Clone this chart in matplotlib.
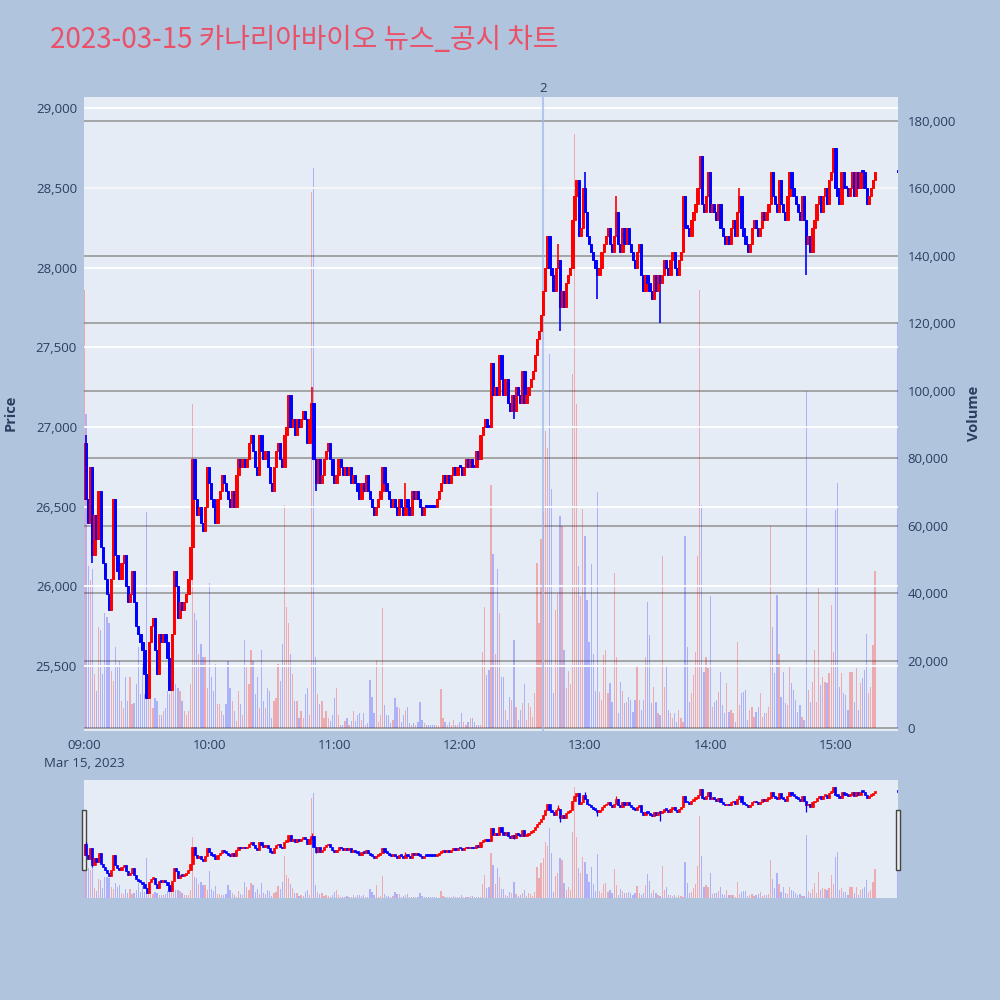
import matplotlib
matplotlib.use('Agg')
import matplotlib.pyplot as plt
from matplotlib.patches import Rectangle

title = '2023-03-15 카나리아바이오 뉴스_공시 차트'
tick_minutes = [0, 60, 120, 180, 240, 300, 360]
tick_labels = ['09:00\nMar 15, 2023', '10:00', '11:00', '12:00', '13:00', '14:00', '15:00']

# one candle per minute, 09:00 .. 15:19, then the 15:30 closing auction
first_open = 26550
closes = [
    26900, 26550, 26400, 26750, 26200, 26450, 26300, 26600, 26250, 26150,
    26050, 25950, 25850, 26050, 26550, 26200, 26100, 26050, 26150, 26200,
    26000, 25900, 25950, 26100, 25900, 25750, 25700, 25650, 25600, 25450,
    25300, 25650, 25750, 25800, 25600, 25450, 25700, 25650, 25700, 25650,
    25550, 25350, 25700, 26100, 26000, 25800, 25900, 25850, 25900, 25950,
    26050, 26250, 26800,
    26550, 26450, 26500, 26400, 26350, 26500, 26750, 26650, 26550, 26500,
    26400, 26550, 26600, 26700, 26650, 26600, 26550, 26500, 26600, 26500,
    26700, 26800, 26750, 26800, 26750, 26800, 26900, 26950, 26850, 26750,
    26700, 26950, 26850, 26800, 26850, 26750, 26650, 26600, 26750, 26850,
    26900, 26800, 26750, 26950, 27000, 27200, 27000, 27050, 26950,
    27050, 27000, 27050, 27100, 27050, 26900, 27050, 27150, 26800, 26650,
    26800, 26650, 26700, 26800, 26850, 26900, 26800, 26700, 26650, 26700,
    26800, 26750, 26700, 26750, 26700, 26750, 26650, 26700, 26650, 26600,
    26550, 26650, 26600, 26700, 26600, 26550, 26500, 26450, 26500, 26550,
    26600, 26750, 26650, 26600, 26550, 26500, 26550, 26500, 26450, 26550,
    26500, 26450, 26550, 26500, 26450, 26600, 26550, 26600, 26550, 26500,
    26450, 26500, 26500, 26500, 26500, 26500, 26500, 26550, 26600, 26650,
    26700, 26650, 26700, 26650, 26700, 26750, 26700, 26750, 26750, 26700,
    26750, 26800, 26750, 26800, 26750, 26750, 26850, 26800, 26950, 27000,
    27050, 27000, 27000, 27400,
    27200, 27250, 27200, 27450, 27300, 27200, 27300, 27150, 27100, 27200,
    27100, 27250, 27200, 27150, 27350, 27150, 27200, 27250, 27300, 27350,
    27450, 27550, 27600, 27700, 27850, 28000, 28200, 28000, 27950, 27850,
    28000, 28050, 27750, 27850, 27750, 27900, 27950, 28000, 28300, 28450,
    28550, 28200, 28250, 28500, 28350, 28200, 28150, 28100, 28050, 28000,
    27950, 28000, 28100, 28150, 28200, 28250, 28150, 28100, 28200, 28350,
    28150, 28100, 28250, 28150, 28250, 28150, 28100, 28050, 28000, 28100,
    28150, 27950, 27850, 27950, 27900, 27850, 27800, 27950, 27850, 27950,
    27900, 27950, 28050, 28000, 27950, 28050, 28100, 28000, 27950, 28050,
    28100, 28450, 28250,
    28250, 28200, 28300, 28350, 28400, 28500, 28700, 28400, 28350, 28450,
    28600, 28350, 28400, 28350, 28300, 28400, 28250, 28200, 28150, 28200,
    28150, 28250, 28300, 28200, 28350, 28450, 28250, 28200, 28150, 28100,
    28150, 28250, 28300, 28250, 28200, 28250, 28350, 28300, 28350, 28400,
    28600, 28450, 28400, 28350, 28550, 28400, 28350, 28300, 28450, 28600,
    28500, 28450, 28400, 28350, 28300, 28450, 28300, 28150, 28200, 28100,
    28250, 28300, 28400, 28450, 28350, 28450, 28500, 28400, 28550, 28600,
    28750, 28500, 28450, 28400, 28600, 28500, 28500, 28450, 28500, 28600,
    28450, 28600, 28500, 28600, 28600, 28500, 28400, 28450, 28500, 28550,
    28600,
]
auction_minute = 390
auction_close = 28600

# volume per minute, thousands of shares
volumes = [
    130, 93, 48, 44, 47, 16, 11, 30, 29, 16,
    34, 33, 31, 17, 14, 24, 18, 20, 8, 6,
    15, 8, 15, 7, 7.5, 13, 24, 10, 19, 10,
    64, 10, 9, 6, 9, 8, 4, 4, 5, 6,
    11, 10, 28, 18, 13, 12, 11, 8, 5, 4,
    5, 13, 96,
    34, 32, 22, 25, 21, 21, 12, 43, 15, 11,
    19, 7, 7, 5, 4, 7, 20, 12, 8, 5,
    2, 11, 7, 4, 26, 18, 13, 23, 20, 10,
    15, 6, 23, 8, 6, 12, 11, 3, 8, 9,
    19, 14, 25, 66, 36, 31, 22, 16, 8,
    8, 3, 5, 3, 10, 12, 4, 159, 166, 21,
    10, 7, 8, 3, 5, 3, 2, 4, 9, 12,
    4, 1, 1, 2, 3, 1, 2, 5, 2, 4,
    4.4, 2.4, 4.4, 0.9, 1.4, 14.2, 9.3, 4.4, 20.1, 1.9,
    3.9, 35.5, 6.8, 3.9, 3.9, 1.4, 2.4, 8.8, 6.3, 5.8,
    1.9, 3.9, 5.3, 6.3, 1.4, 0.9, 1.4, 0.9, 1.9, 7.8,
    2.4, 1.4, 0.9, 0.9, 0.9, 0.9, 0.9, 0.9, 0.5, 11.7,
    2.9, 1.9, 0.9, 1.9, 0.9, 2.4, 0.9, 0.9, 1.9, 4.4,
    1.9, 0.9, 1.9, 2.9, 2.9,
    1.9, 0.9, 0.9, 0.9, 22.6, 36, 15.7, 17.2, 72, 51.7,
    22, 47, 34, 15, 15, 5.3, 2.4, 9.3, 8.3, 26,
    6.3, 2.4, 5.3, 7.3, 13, 2.4, 7.3, 6.3, 3.4, 10.3,
    49, 31, 56, 64, 88, 83, 111, 71, 10.3, 35,
    40, 63, 60, 23, 12, 17, 13, 105, 176, 96,
    48,
    39, 65, 57, 38, 25.6, 48.5, 22, 11, 70, 10.8,
    8.3, 21.7, 23, 10.3, 13.2, 7.8, 46, 21, 4.4, 13.7,
    11, 7.3, 7.8, 9.3, 8.3, 4.8, 8.3, 18.7, 8.3, 5.3,
    8.3, 21, 37.5, 27.6, 7.3, 12.2, 7.8, 4.4, 3.9, 51,
    12.2, 18.2, 5.3, 4.4, 2.9, 4.4, 1.9, 5.3, 2.9, 1.9,
    57, 24, 7.8, 10.3, 15.7, 22.6, 51, 130,
    66, 16.7, 21, 17.7, 39, 6.3, 7.8, 8.3, 10.8, 16.7,
    6.8, 4.4, 13.2, 4.8, 5.3, 4.4, 1.9, 25.6, 6.8, 10.3,
    10.8, 11.2, 2.4, 5.3, 6.3, 3.4, 4.8, 6.3, 10.3, 3.4,
    4.4, 4.4, 6.3, 60, 30, 16.2, 39.5, 22, 9.3, 16.7,
    7.3, 6.8, 18.2, 13.2, 11.2, 8.3, 4.8, 6.8, 3.4, 2.4,
    100,
    11.2, 7.8, 13.7, 23, 7.8, 41.5, 12.7, 15.2, 13.7, 13.2,
    16.2, 36.5, 22.6, 64.6, 72.5, 12.2, 16.2, 10.3, 9.8, 5.3,
    16.7, 16.7, 7.8, 17.7, 5.3, 13.2, 14.7, 17.2, 28, 10.3,
    12.2, 24.6, 46.6,
]
auction_volume = 120

# wicks that reach past the candle body
high_wicks = {1: 26950, 109: 27250, 154: 26650, 227: 28150, 240: 28600, 255: 28450, 314: 28500}
low_wicks = {4: 26150, 41: 25350, 111: 26600, 206: 27050, 228: 27600, 246: 27800, 276: 27650, 346: 27950}

news_minute = 220
news_label = '2'

assert len(closes) == 380 and len(volumes) == 380

minutes = list(range(len(closes))) + [auction_minute]
close_all = closes + [auction_close]
open_all = [first_open] + closes[:-1] + [closes[-1]]
high_all = [max(o, c, high_wicks.get(i, 0)) for i, (o, c) in enumerate(zip(open_all, close_all))]
low_all = [min(o, c, low_wicks.get(i, 99999)) for i, (o, c) in enumerate(zip(open_all, close_all))]
colors = ['#FF0000' if c > o else '#0000FF' for o, c in zip(open_all, close_all)]
vol_all = [v * 1000 for v in volumes + [auction_volume]]
vol_colors = [(1, 0, 0, 0.28) if c == '#FF0000' else (0.1, 0.1, 1, 0.28) for c in colors]

BG = '#E5ECF6'
TXT = '#2a3f5f'


def draw_candles(ax, min_body, wick_lw, edge_lw, width):
    ax.vlines(minutes, low_all, high_all, colors=colors, lw=wick_lw, zorder=3)
    bottoms = [min(o, c) for o, c in zip(open_all, close_all)]
    heights = [max(abs(c - o), min_body) for o, c in zip(open_all, close_all)]
    ax.bar(minutes, heights, bottom=bottoms, width=width, color=colors,
           edgecolor=colors, lw=edge_lw, zorder=4)


fig = plt.figure(figsize=(10, 10), dpi=100)
fig.patch.set_facecolor('#B0C4DE')

# main chart: volume underneath, price on top
vax = fig.add_axes([0.084, 0.269, 0.814, 0.634])
pax = vax.twinx()
pax.set_zorder(vax.get_zorder() + 1)
pax.patch.set_visible(False)
vax.set_facecolor(BG)

vax.bar(minutes, vol_all, width=0.6, color=vol_colors, lw=0)
vax.set_ylim(-888, 187100)
vax.set_yticks(range(0, 180001, 20000))
vax.set_yticklabels([f'{v:,}' for v in range(0, 180001, 20000)])
vax.yaxis.tick_right()
vax.grid(axis='y', color='#999999', lw=1.2)
vax.set_axisbelow(True)

draw_candles(pax, 14, 1.2, 0.7, 1.1)
pax.set_ylim(25094, 29069)
pax.set_yticks(range(25500, 29001, 500))
pax.set_yticklabels([f'{v:,}' for v in range(25500, 29001, 500)])
pax.yaxis.tick_left()
pax.grid(axis='y', color='white', lw=1.3)
pax.set_axisbelow(True)
pax.axvline(news_minute, color='#9DB3EE', alpha=0.7, lw=1.5, zorder=2)
pax.text(news_minute, 29080, news_label, ha='center', va='bottom', fontsize=9.5,
         color=TXT, family='Open Sans')

for ax in (vax, pax):
    ax.set_xlim(0, 390)
    for s in ax.spines.values():
        s.set_visible(False)
    ax.tick_params(length=0, labelsize=9.5, labelcolor=TXT)
    for lab in ax.get_yticklabels():
        lab.set_family('Open Sans')
vax.tick_params(axis='y', pad=7)
pax.tick_params(axis='y', pad=5)
vax.set_xticks(tick_minutes)
vax.set_xticklabels(tick_labels, family='Open Sans', linespacing=1.45)
vax.tick_params(axis='x', pad=6)

fig.text(0.011, 0.587, 'Price', rotation=90, ha='center', va='center', fontsize=10.5,
         fontweight='bold', color=TXT, family='Open Sans')
fig.text(0.974, 0.587, 'Volume', rotation=90, ha='center', va='center', fontsize=10.5,
         fontweight='bold', color=TXT, family='Open Sans')
fig.text(0.05, 0.96, title, ha='left', va='center', fontsize=20, color='#EA5168',
         family=['Noto Sans CJK KR', 'DejaVu Sans'])

# range slider
svax = fig.add_axes([0.084, 0.102, 0.814, 0.118])
spax = svax.twinx()
spax.set_zorder(svax.get_zorder() + 1)
spax.patch.set_visible(False)
svax.set_facecolor(BG)
svax.bar(minutes, vol_all, width=0.6, color=vol_colors, lw=0)
svax.set_ylim(0, 187000)
draw_candles(spax, 60, 0.9, 0.5, 1.05)
spax.set_ylim(25137, 28978)
for ax in (svax, spax):
    ax.set_xlim(0, 390)
    ax.set_xticks([])
    ax.set_yticks([])
    for s in ax.spines.values():
        s.set_visible(False)

for x0 in (0.0815, 0.8955):
    fig.add_artist(Rectangle((x0, 0.130), 0.004, 0.060, transform=fig.transFigure,
                             facecolor='#EEEEEE', edgecolor='#444444', lw=1.0))

fig.savefig('out.png', dpi=100, facecolor=fig.get_facecolor())
